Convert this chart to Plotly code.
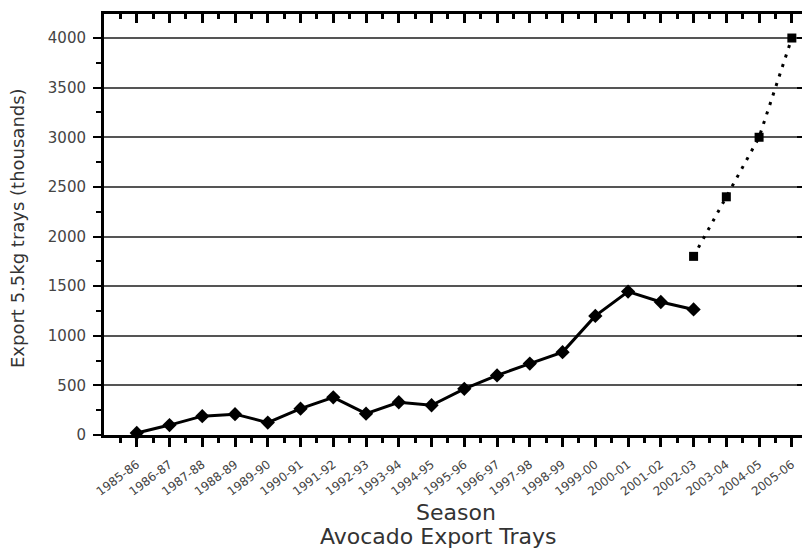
import plotly.graph_objects as go

# Seasons shown along the category axis
seasons = ["1985-86", "1986-87", "1987-88", "1988-89", "1989-90", "1990-91",
           "1991-92", "1992-93", "1993-94", "1994-95", "1995-96", "1996-97",
           "1997-98", "1998-99", "1999-00", "2000-01", "2001-02", "2002-03",
           "2003-04", "2004-05", "2005-06"]

# Actual export trays (thousands of 5.5kg trays)
actual_seasons = seasons[:18]
actual_values = [20, 100, 190, 210, 125, 265, 380, 215, 330, 300,
                 465, 600, 720, 835, 1200, 1445, 1340, 1265]

# Projected export trays (thousands)
proj_seasons = ["2002-03", "2003-04", "2004-05", "2005-06"]
proj_values = [1800, 2400, 3000, 4000]

y_ticks = [0, 500, 1000, 1500, 2000, 2500, 3000, 3500, 4000]

idx = {s: i for i, s in enumerate(seasons)}
x_range = [-1, 20.31]
y_range = [0, 4242]
half_steps = [i - 0.5 for i in range(len(seasons) + 1)]

FONT = "DejaVu Sans"
TXT = "#333333"

fig = go.Figure()

fig.add_trace(go.Scatter(
    x=[idx[s] for s in actual_seasons], y=actual_values,
    mode="lines+markers",
    line=dict(color="black", width=3),
    marker=dict(symbol="diamond", size=11, color="black"),
    cliponaxis=False, showlegend=False,
))

fig.add_trace(go.Scatter(
    x=[idx[s] for s in proj_seasons], y=proj_values,
    mode="lines+markers",
    line=dict(color="black", width=3, dash="3px,7px"),
    marker=dict(symbol="square", size=9, color="black"),
    cliponaxis=False, showlegend=False,
))

# Empty trace that carries the top and right frame axes
fig.add_trace(go.Scatter(x=[None], y=[None], xaxis="x2", yaxis="y2",
                         showlegend=False, hoverinfo="skip"))

fig.update_layout(
    width=802, height=548,
    margin=dict(l=104, r=0, t=14, b=113),
    paper_bgcolor="white", plot_bgcolor="white",
    font=dict(family=FONT, color=TXT),
    xaxis=dict(
        range=x_range, tickmode="array",
        tickvals=[idx[s] for s in seasons], ticktext=seasons,
        tickangle=-37, tickfont=dict(size=12, color="#444444"),
        ticks="outside", ticklen=9, tickwidth=3, tickcolor="black",
        ticklabelstandoff=6,
        minor=dict(tickmode="array", tickvals=half_steps, ticks="outside",
                   ticklen=5, tickwidth=3, tickcolor="black", showgrid=False),
        showline=True, linewidth=3, linecolor="black",
        showgrid=False, zeroline=False,
    ),
    xaxis2=dict(
        range=x_range, overlaying="x", side="top", anchor="y",
        tickmode="array", tickvals=[idx[s] for s in seasons],
        showticklabels=False,
        ticks="inside", ticklen=9, tickwidth=3, tickcolor="black",
        minor=dict(tickmode="array", tickvals=half_steps, ticks="inside",
                   ticklen=5, tickwidth=3, tickcolor="black", showgrid=False),
        showline=True, linewidth=3, linecolor="black",
        showgrid=False, zeroline=False,
    ),
    yaxis=dict(
        range=y_range, tickmode="array", tickvals=y_ticks,
        tickfont=dict(size=15, color="#444444"),
        ticks="outside", ticklen=8, tickwidth=2, tickcolor="black",
        ticklabelstandoff=4,
        minor=dict(dtick=250, tick0=0, ticks="outside", ticklen=5,
                   tickwidth=2, tickcolor="black", showgrid=False),
        showline=True, linewidth=3, linecolor="black",
        showgrid=True, gridcolor="#555555", gridwidth=1.5,
        zeroline=False,
    ),
    yaxis2=dict(
        range=y_range, overlaying="y", side="right", anchor="x",
        tickmode="array", tickvals=y_ticks, showticklabels=False,
        ticks="inside", ticklen=5, tickwidth=2, tickcolor="black",
        showline=False, showgrid=False, zeroline=False,
    ),
    annotations=[
        dict(text="Export 5.5kg trays (thousands)", textangle=-90,
             xref="paper", yref="paper", x=-0.123, y=0.492,
             xanchor="center", yanchor="middle", showarrow=False,
             font=dict(size=18, color=TXT)),
        dict(text="Season", xref="paper", yref="paper",
             x=0.504, y=-0.183, xanchor="center", yanchor="middle",
             showarrow=False, font=dict(size=22, color=TXT)),
        dict(text="Avocado Export Trays", xref="paper", yref="paper",
             x=0.479, y=-0.242, xanchor="center", yanchor="middle",
             showarrow=False, font=dict(size=22, color=TXT)),
    ],
)

fig.write_html("out.html")
